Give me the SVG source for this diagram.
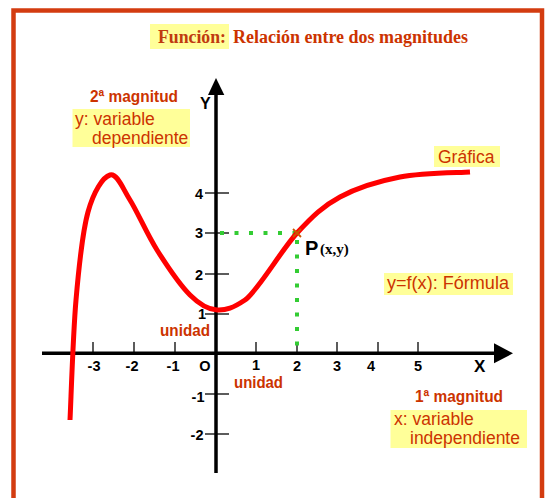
<svg xmlns="http://www.w3.org/2000/svg" width="547" height="498" viewBox="0 0 547 498">
<style>
.lbl{font-family:"Liberation Sans",Arial,sans-serif;fill:#cc3300;font-size:17.5px}
.mag{font-family:"Liberation Sans Narrow","Liberation Sans",Arial,sans-serif;font-weight:bold;fill:#cc3300;font-size:17px}
.num{font-family:"Liberation Sans",Arial,sans-serif;font-weight:bold;fill:#000;font-size:14.5px;text-anchor:middle}
.box{fill:#ffff99}
.tick{stroke:#333;stroke-width:1.6}
.axis{stroke:#000;stroke-width:3.5}
.dots{stroke:#33cc33;stroke-width:4;fill:none;stroke-dasharray:4 10.5}
</style>
<rect x="0" y="0" width="547" height="498" fill="#fff"/>
<rect x="13.5" y="10.5" width="528.5" height="500" fill="none" stroke="#d33c10" stroke-width="4.5"/>

<g id="title">
<rect class="box" x="150" y="24" width="79" height="25"/>
<text x="158" y="43" font-family="'Liberation Serif','Times New Roman',serif" font-weight="bold" font-size="18.5" fill="#c03a10" textLength="68" lengthAdjust="spacingAndGlyphs">Función:</text>
<text x="233" y="43" font-family="'Liberation Serif','Times New Roman',serif" font-weight="bold" font-size="18.5" fill="#cc3300" textLength="235" lengthAdjust="spacingAndGlyphs">Relación entre dos magnitudes</text>
</g>

<g id="ticks">
<line class="tick" x1="93" y1="342" x2="93" y2="353"/>
<line class="tick" x1="134" y1="342" x2="134" y2="353"/>
<line class="tick" x1="175" y1="342" x2="175" y2="353"/>
<line class="tick" x1="256" y1="342" x2="256" y2="353"/>
<line class="tick" x1="297" y1="342" x2="297" y2="353"/>
<line class="tick" x1="337" y1="342" x2="337" y2="353"/>
<line class="tick" x1="378" y1="342" x2="378" y2="353"/>
<line class="tick" x1="418" y1="342" x2="418" y2="353"/>
<line class="tick" x1="205" y1="193" x2="229" y2="193"/>
<line class="tick" x1="205" y1="233" x2="229" y2="233"/>
<line class="tick" x1="205" y1="274" x2="229" y2="274"/>
<line class="tick" x1="205" y1="314" x2="229" y2="314"/>
<line class="tick" x1="205" y1="394" x2="229" y2="394"/>
<line class="tick" x1="205" y1="434" x2="229" y2="434"/>
</g>

<g id="axes">
<line class="axis" x1="42" y1="353.3" x2="498" y2="353.3"/>
<polygon points="494,343.3 513,353.3 494,363.3" fill="#000"/>
<line class="axis" x1="216" y1="473" x2="216" y2="92"/>
<polygon points="208,95 216,78 224.3,95" fill="#000"/>
<text x="200" y="109" font-family="'Liberation Sans',Arial,sans-serif" font-weight="bold" font-size="16">Y</text>
<text x="474" y="372" font-family="'Liberation Sans',Arial,sans-serif" font-weight="bold" font-size="17">X</text>
</g>

<g id="axis-numbers">
<text class="num" x="94" y="371">-3</text>
<text class="num" x="132" y="371">-2</text>
<text class="num" x="173" y="371">-1</text>
<text class="num" x="205" y="371">O</text>
<text class="num" x="256" y="370">1</text>
<text class="num" x="297" y="371">2</text>
<text class="num" x="337" y="371">3</text>
<text class="num" x="371" y="371">4</text>
<text class="num" x="418" y="371">5</text>
<text class="num" x="199" y="199">4</text>
<text class="num" x="199" y="238">3</text>
<text class="num" x="199" y="280">2</text>
<text class="num" x="202" y="319">1</text>
<text class="num" x="198" y="402">-1</text>
<text class="num" x="197" y="440">-2</text>
</g>

<g id="connectors">
<line class="dots" x1="220" y1="233" x2="297" y2="233"/>
<line class="dots" x1="297" y1="240" x2="297" y2="353"/>
</g>

<g id="curve">
<path d="M70,420 C71,400 73,334.7 76,300 C79,265.3 82.3,232.8 88,212 C93.7,191.2 103,177 110,175 C117,173 122.2,187.5 130,200 C137.8,212.5 147,234.2 157,250 C167,265.8 180,285 190,295 C200,305 207.8,309.5 217,310 C226.2,310.5 233,308 245,300 C257,292 281.2,250.2 297,233 C312.8,215.8 322.8,206.3 340,197 C357.2,187.7 378.3,181.2 400,177 C421.7,172.8 458.3,172.8 470,172" fill="none" stroke="#ff0000" stroke-width="5" stroke-linecap="butt"/>
</g>

<g id="point-P">
<path d="M293,229 L301,237 M301,229 L293,237" stroke="#cc5500" stroke-width="1.8"/>
<text x="305" y="255" font-family="'Liberation Sans',Arial,sans-serif" font-weight="bold" font-size="20" fill="#000">P</text>
<text x="320" y="254" font-family="'Liberation Serif','Times New Roman',serif" font-weight="bold" font-size="15" fill="#000">(x,y)</text>
</g>

<g id="label-y">
<text class="mag" x="90" y="102" textLength="88" lengthAdjust="spacingAndGlyphs">2ª magnitud</text>
<rect class="box" x="72.5" y="109" width="117.5" height="38"/>
<text class="lbl" x="75" y="125">y: variable</text>
<text class="lbl" x="92" y="144">dependiente</text>
</g>

<g id="label-grafica">
<rect class="box" x="434" y="146" width="66" height="21"/>
<text class="lbl" x="438" y="163" font-size="17">Gráfica</text>
</g>

<g id="label-formula">
<rect class="box" x="384" y="273" width="129" height="22"/>
<text class="lbl" x="387" y="289" textLength="122" lengthAdjust="spacingAndGlyphs">y=f(x): Fórmula</text>
</g>

<g id="label-unidad-y">
<text class="mag" x="160" y="336" textLength="50" lengthAdjust="spacingAndGlyphs">unidad</text>
</g>
<g id="label-unidad-x">
<text class="mag" x="234" y="388" font-size="16" textLength="49" lengthAdjust="spacingAndGlyphs">unidad</text>
</g>

<g id="label-x">
<text class="mag" x="415" y="402" textLength="88" lengthAdjust="spacingAndGlyphs">1ª magnitud</text>
<rect class="box" x="390.5" y="410" width="136.5" height="38"/>
<text class="lbl" x="394" y="425">x: variable</text>
<text class="lbl" x="410" y="444">independiente</text>
</g>
</svg>
